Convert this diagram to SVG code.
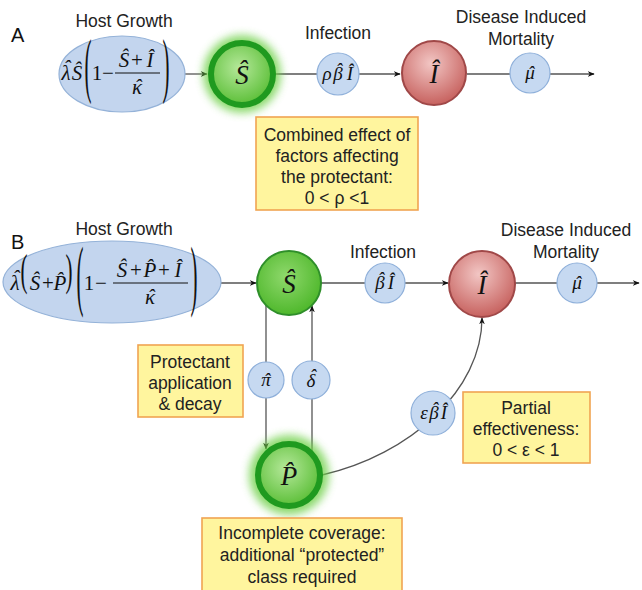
<svg xmlns="http://www.w3.org/2000/svg" width="642" height="590" viewBox="0 0 642 590">
<style>
.lbl{font-family:"Liberation Sans",Arial,sans-serif;font-size:17.5px;fill:#222;text-anchor:middle}
.pl{font-family:"Liberation Sans",Arial,sans-serif;font-size:20px;fill:#111}
.m{font-family:"Liberation Serif","Times New Roman",serif;font-style:italic;font-size:21px;fill:#111;text-anchor:middle}
.up{font-style:normal}
.mu{font-family:"Liberation Serif","Times New Roman",serif;font-size:21px;fill:#111;text-anchor:middle}
.big{font-family:"Liberation Serif","Times New Roman",serif;font-size:27px;font-style:italic;fill:#111;text-anchor:middle}
.sm{font-family:"Liberation Serif","Times New Roman",serif;font-style:italic;font-size:19px;fill:#111;text-anchor:middle}
.ell{fill:#c3d5ee;stroke:#94b2d8;stroke-width:1.2}
.par{fill:#c6d9f1;stroke:#8fb0da;stroke-width:1.2}
.box{fill:#fff59e;stroke:#f0a452;stroke-width:1.6}
.ln{fill:none;stroke:#555;stroke-width:1.3}
.arr{fill:none;stroke:#555;stroke-width:1.3;marker-end:url(#ah)}
.bar{stroke:#111;stroke-width:1}
</style>
<defs>
<marker id="ah" viewBox="0 0 10 10" refX="9" refY="5" markerWidth="7" markerHeight="7" orient="auto" markerUnits="userSpaceOnUse">
<path d="M0,1 L10,5 L0,9 L3,5 z" fill="#111"/>
</marker>
<radialGradient id="gG" cx="45%" cy="40%" r="60%">
<stop offset="0" stop-color="#b5e89a"/><stop offset="1" stop-color="#5cbf38"/>
</radialGradient>
<radialGradient id="gS" cx="45%" cy="40%" r="60%">
<stop offset="0" stop-color="#8fd86c"/><stop offset="1" stop-color="#4fb82c"/>
</radialGradient>
<radialGradient id="gR" cx="45%" cy="35%" r="65%">
<stop offset="0" stop-color="#f2c6c4"/><stop offset="1" stop-color="#c7625f"/>
</radialGradient>
<filter id="blur" x="-50%" y="-50%" width="200%" height="200%"><feGaussianBlur stdDeviation="4"/></filter>
</defs>

<g id="connectors">
<line class="arr" x1="185" y1="74" x2="207" y2="74"/>
<line class="ln" x1="276" y1="74" x2="318" y2="74"/>
<line class="arr" x1="358" y1="74" x2="400" y2="74"/>
<line class="ln" x1="467" y1="74" x2="510" y2="74"/>
<line class="arr" x1="550" y1="74" x2="594" y2="74"/>
<line class="arr" x1="221" y1="283" x2="256" y2="283"/>
<line class="ln" x1="321" y1="283" x2="365" y2="283"/>
<line class="arr" x1="405" y1="283" x2="448" y2="283"/>
<line class="ln" x1="515" y1="283" x2="557" y2="283"/>
<line class="arr" x1="597" y1="283" x2="639" y2="283"/>
<line class="arr" x1="266" y1="305" x2="266" y2="449"/>
<line class="arr" x1="312" y1="451" x2="312" y2="306"/>
<path class="arr" d="M322,475 C410,455 482,390 482,318"/>
</g>

<text class="pl" x="11" y="42">A</text>
<text class="pl" x="11" y="249">B</text>

<g id="hostA">
<text class="lbl" x="124" y="27">Host Growth</text>
<ellipse class="ell" cx="122" cy="74" rx="63" ry="38"/>
<text class="m" x="66 67 77" y="80 75 80">λˆŜ</text>
<text class="mu" x="97 108" y="80">1−</text>
<text class="mu" transform="translate(88,89) scale(1,3.4)">(</text>
<text class="m" y="67"><tspan x="124">Ŝ</tspan><tspan class="up" x="137">+</tspan><tspan x="150">Î</tspan></text>
<line class="bar" x1="115" y1="73" x2="160" y2="73"/>
<text class="m" x="137 138" y="94 94">κˆ</text>
<text class="mu" transform="translate(166,89) scale(1,3.4)">)</text>
</g>

<g id="SA">
<circle cx="242" cy="74" r="39" fill="#6fd04a" opacity="0.8" filter="url(#blur)"/>
<circle cx="242" cy="74" r="31" fill="url(#gG)" stroke="#1f9a1f" stroke-width="6"/>
<text class="big" x="242" y="84">Ŝ</text>
</g>

<g id="infA">
<text class="lbl" x="338" y="39">Infection</text>
<circle class="par" cx="338" cy="74" r="21"/>
<text class="sm" x="327 338 339 350" y="80 80 75.5 80">ρβˆÎ</text>
</g>

<g id="IA">
<circle cx="434" cy="73" r="32" fill="url(#gR)" stroke="#a04848" stroke-width="2"/>
<text class="big" x="434" y="83">Î</text>
</g>

<g id="muA">
<text class="lbl" x="521" y="23">Disease Induced</text>
<text class="lbl" x="521" y="45">Mortality</text>
<circle class="par" cx="530" cy="73" r="20"/>
<text class="sm" x="530 531" y="79 79">μˆ</text>
</g>

<g id="boxA">
<rect class="box" x="256" y="117" width="162" height="93"/>
<text class="lbl" x="337" y="141">Combined effect of</text>
<text class="lbl" x="337" y="162">factors affecting</text>
<text class="lbl" x="337" y="183">the protectant:</text>
<text class="lbl" x="337" y="204">0 &lt; ρ &lt;1</text>
</g>

<g id="hostB">
<text class="lbl" x="124" y="235">Host Growth</text>
<ellipse class="ell" cx="112" cy="282" rx="109" ry="41"/>
<text class="m" x="15 16" y="290 285">λˆ</text>
<text class="m" y="290"><tspan x="35">Ŝ</tspan><tspan class="up" x="48">+</tspan><tspan x="60">P̂</tspan><tspan class="up" x="89">1</tspan><tspan class="up" x="101">−</tspan></text>
<text class="mu" transform="translate(24,285) scale(1,2.1)">(</text>
<text class="mu" transform="translate(69,285) scale(1,2.1)">)</text>
<text class="mu" transform="translate(80,301) scale(1,3.7)">(</text>
<text class="m" y="277"><tspan x="122">Ŝ</tspan><tspan class="up" x="136">+</tspan><tspan x="150">P̂</tspan><tspan class="up" x="164">+</tspan><tspan x="178">Î</tspan></text>
<line class="bar" x1="113" y1="283" x2="188" y2="283"/>
<text class="m" x="150 151" y="304 304">κˆ</text>
<text class="mu" transform="translate(194,301) scale(1,3.7)">)</text>
</g>

<g id="SB">
<circle cx="289" cy="283" r="32" fill="url(#gS)" stroke="#2f8f2a" stroke-width="2"/>
<text class="big" x="289" y="293">Ŝ</text>
</g>

<g id="infB">
<text class="lbl" x="383" y="258">Infection</text>
<circle class="par" cx="385" cy="283" r="20"/>
<text class="sm" x="380 381 391" y="289 284.5 289">βˆÎ</text>
</g>

<g id="IB">
<circle cx="482" cy="284" r="33" fill="url(#gR)" stroke="#a04848" stroke-width="2"/>
<text class="big" x="482" y="294">Î</text>
</g>

<g id="muB">
<text class="lbl" x="566" y="236">Disease Induced</text>
<text class="lbl" x="566" y="258">Mortality</text>
<circle class="par" cx="577" cy="283" r="20"/>
<text class="sm" x="577 578" y="289 289">μˆ</text>
</g>

<g id="pi">
<circle class="par" cx="266" cy="380" r="18"/>
<text class="sm" x="266 267" y="386 386">πˆ</text>
</g>
<g id="delta">
<circle class="par" cx="311" cy="380" r="19"/>
<text class="sm" x="311 313" y="387 382">δˆ</text>
</g>

<g id="boxProt">
<rect class="box" x="138" y="345" width="105" height="72"/>
<text class="lbl" x="190" y="368">Protectant</text>
<text class="lbl" x="190" y="389">application</text>
<text class="lbl" x="190" y="410">&amp; decay</text>
</g>

<g id="PB">
<circle cx="289" cy="475" r="40" fill="#6fd04a" opacity="0.8" filter="url(#blur)"/>
<circle cx="289" cy="475" r="31" fill="url(#gG)" stroke="#1f9a1f" stroke-width="6"/>
<text class="big" x="289" y="485">P̂</text>
</g>

<g id="eps">
<circle class="par" cx="433" cy="413" r="22"/>
<text class="sm" x="424 434 435 444" y="419 419 414.5 419">εβˆÎ</text>
</g>

<g id="boxPart">
<rect class="box" x="463" y="392" width="127" height="71"/>
<text class="lbl" x="526" y="414">Partial</text>
<text class="lbl" x="526" y="435">effectiveness:</text>
<text class="lbl" x="526" y="456">0 &lt; ε &lt; 1</text>
</g>

<g id="boxInc">
<rect class="box" x="202" y="518" width="200" height="76"/>
<text class="lbl" x="302" y="539">Incomplete coverage:</text>
<text class="lbl" x="302" y="561">additional “protected”</text>
<text class="lbl" x="302" y="583">class required</text>
</g>
</svg>
